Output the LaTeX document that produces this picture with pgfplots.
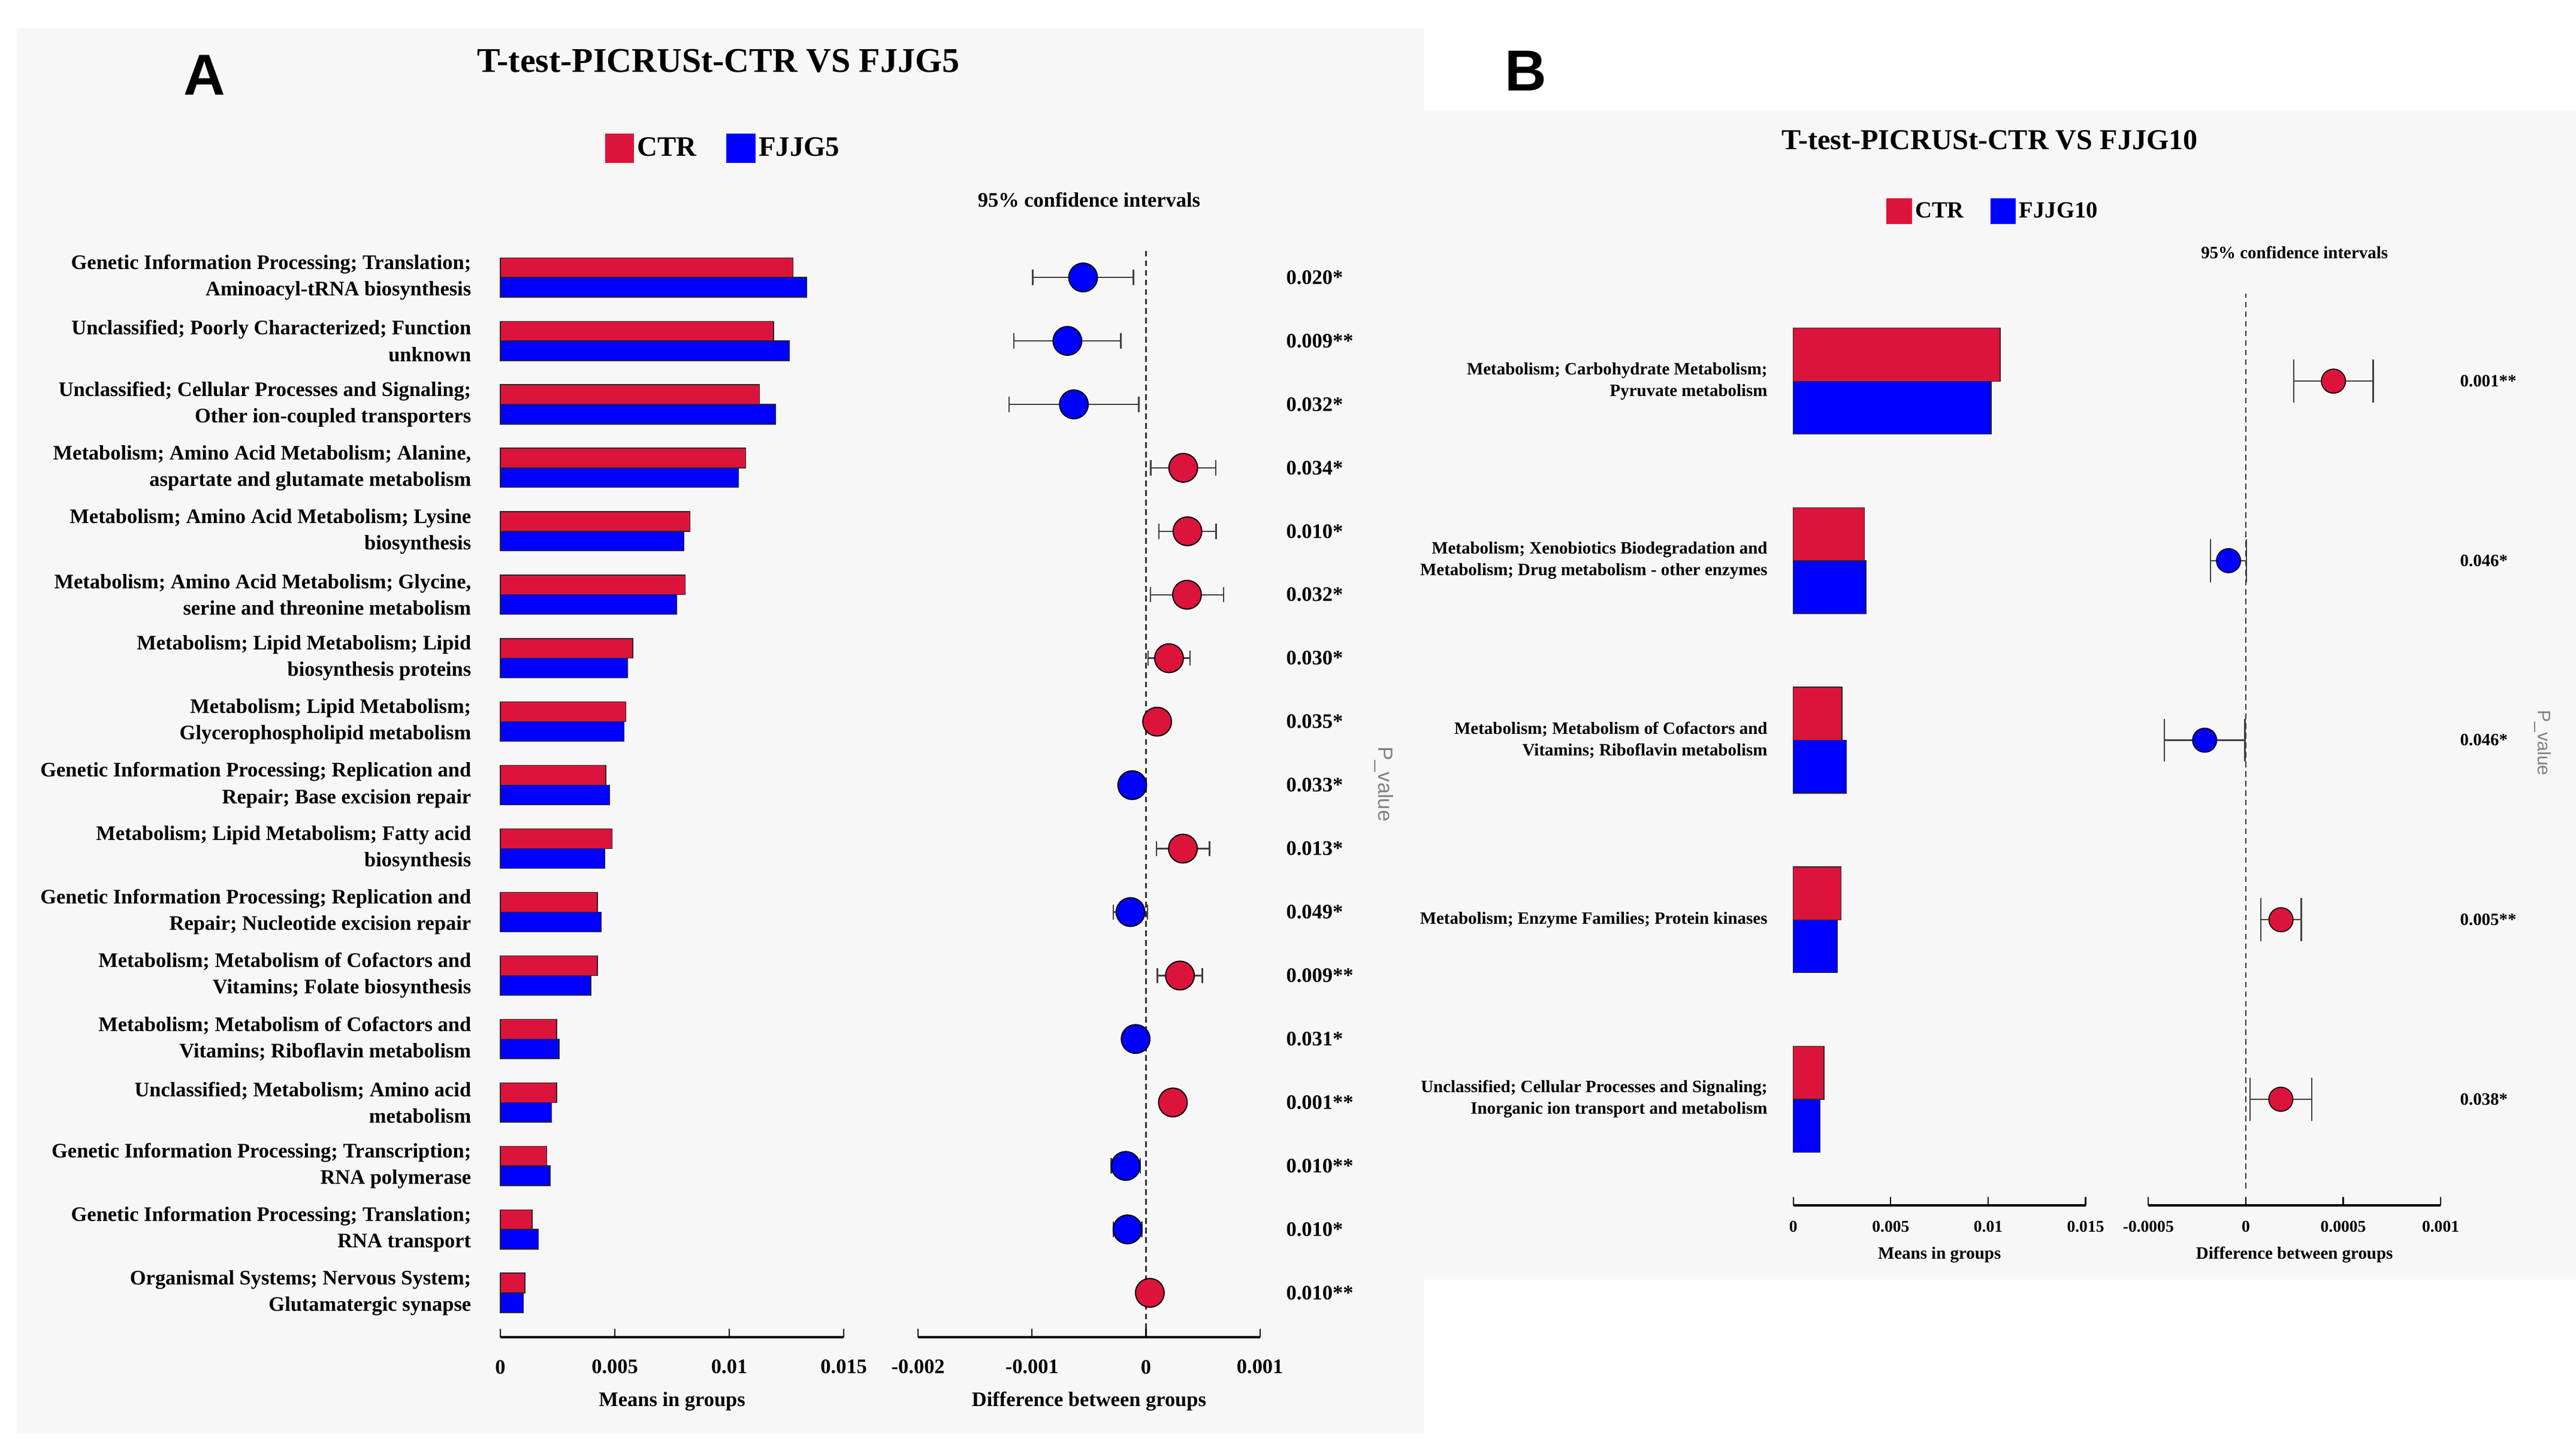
\documentclass[border=0pt]{standalone}
\usepackage{fontspec}
\setmainfont{Liberation Serif}
\newfontfamily\sansf{Liberation Sans}
\usepackage{pgfplots}
\pgfplotsset{compat=1.18}
\definecolor{ctrred}{RGB}{220,20,60}
\definecolor{fjjblue}{RGB}{0,0,255}
\definecolor{bggray}{RGB}{247,247,247}
\pgfplotsset{
  common/.style={
    scale only axis, anchor=south west, clip=false,
    axis x line=bottom, x axis line style={-, line width=1.6pt},
    tick align=inside, major tick length=5pt,
    xtick style={line width=0.8pt, black},
    scaled x ticks=false,
  },
  barstyle/.style={xbar, bar width=#1, draw=black!85, line width=0.5pt},
}
\begin{document}
\begin{tikzpicture}[x=1pt,y=1pt]
\fill[white] (0,0) rectangle (1560,875);
\fill[bggray] (10,7) rectangle (862,858);
\fill[bggray] (860,100) rectangle (1560,808);
\node[font=\sansf\bfseries\fontsize{35}{40}\selectfont] at (124,829.5) {A};
\node[font=\sansf\bfseries\fontsize{35}{40}\selectfont] at (924,832) {B};
\node[font=\bfseries\fontsize{21}{24}\selectfont] at (435,838) {T-test-PICRUSt-CTR VS FJJG5};
\node[font=\bfseries\fontsize{17.5}{20}\selectfont] at (1205,790) {T-test-PICRUSt-CTR VS FJJG10};
\node[rotate=-90, text=black!50, font=\sansf\fontsize{12.5}{14}\selectfont] at (838,400) {P\_value};
\node[rotate=-90, text=black!50, font=\sansf\fontsize{11}{13}\selectfont] at (1540,425) {P\_value};

% ---------------- Panel A: means
\begin{axis}[common,
  at={(303pt,65pt)}, width=208pt, height=665pt,
  xmin=0, xmax=0.015, ymin=0.30, ymax=17.6,
  axis y line=left, y axis line style={draw=none}, ytick style={draw=none},
  xtick={0,0.005,0.01,0.015}, xticklabels={0,0.005,0.01,0.015},
  xticklabel style={font=\bfseries\fontsize{12.5}{14}\selectfont, anchor=center, yshift=-18pt},
  ytick={1,...,17},
  yticklabels={
   {Organismal Systems; Nervous System;\\Glutamatergic synapse},
   {Genetic Information Processing; Translation;\\RNA transport},
   {Genetic Information Processing; Transcription;\\RNA polymerase},
   {Unclassified; Metabolism; Amino acid\\metabolism},
   {Metabolism; Metabolism of Cofactors and\\Vitamins; Riboflavin metabolism},
   {Metabolism; Metabolism of Cofactors and\\Vitamins; Folate biosynthesis},
   {Genetic Information Processing; Replication and\\Repair; Nucleotide excision repair},
   {Metabolism; Lipid Metabolism; Fatty acid\\biosynthesis},
   {Genetic Information Processing; Replication and\\Repair; Base excision repair},
   {Metabolism; Lipid Metabolism;\\Glycerophospholipid metabolism},
   {Metabolism; Lipid Metabolism; Lipid\\biosynthesis proteins},
   {Metabolism; Amino Acid Metabolism; Glycine,\\serine and threonine metabolism},
   {Metabolism; Amino Acid Metabolism; Lysine\\biosynthesis},
   {Metabolism; Amino Acid Metabolism; Alanine,\\aspartate and glutamate metabolism},
   {Unclassified; Cellular Processes and Signaling;\\Other ion-coupled transporters},
   {Unclassified; Poorly Characterized; Function\\unknown},
   {Genetic Information Processing; Translation;\\Aminoacyl-tRNA biosynthesis}},
  yticklabel style={font=\bfseries\fontsize{12.5}{16}\selectfont, align=right, inner sep=0pt, xshift=-15pt},
  xlabel={Means in groups},
  xlabel style={at={(axis description cs:0.5,0)}, anchor=center, yshift=-39pt, font=\bfseries\fontsize{12.5}{14}\selectfont},
  legend style={at={(0.29,1.083)}, anchor=west, draw=none, fill=none, legend columns=2,
    font=\bfseries\fontsize{17}{20}\selectfont, /tikz/every even column/.append style={column sep=16pt}},
]
\addplot[barstyle=0.31, bar shift=0.155, fill=ctrred,
  legend image code/.code={\fill[ctrred] (0pt,-8.5pt) rectangle (17pt,8.5pt);}]
 coordinates {(0.01278,17) (0.01193,16) (0.01132,15) (0.01071,14) (0.00829,13) (0.00807,12)
  (0.00578,11) (0.00549,10) (0.00461,9) (0.00488,8) (0.00424,7) (0.00424,6) (0.00246,5)
  (0.00246,4) (0.00202,3) (0.00139,2) (0.00107,1)};
\addlegendentry{CTR}
\addplot[barstyle=0.31, bar shift=-0.155, fill=fjjblue,
  legend image code/.code={\fill[fjjblue] (0pt,-8.5pt) rectangle (17pt,8.5pt);}]
 coordinates {(0.01339,17) (0.01263,16) (0.01202,15) (0.01041,14) (0.00802,13) (0.00771,12)
  (0.00556,11) (0.00541,10) (0.00478,9) (0.00456,8) (0.00441,7) (0.00395,6) (0.00256,5)
  (0.00224,4) (0.00217,3) (0.00166,2) (0.00100,1)};
\addlegendentry{FJJG5}
\end{axis}

% ---------------- Panel A: differences
\begin{axis}[common,
  at={(556pt,65pt)}, width=207pt, height=665pt,
  xmin=-0.002, xmax=0.001, ymin=0.30, ymax=17.6,
  axis y line=none,
  xtick={-0.002,-0.001,0,0.001}, xticklabels={-0.002,-0.001,0,0.001},
  xticklabel style={font=\bfseries\fontsize{12.5}{14}\selectfont, anchor=center, yshift=-18pt},
  xlabel={Difference between groups},
  xlabel style={at={(axis description cs:0.5,0)}, anchor=center, yshift=-39pt, font=\bfseries\fontsize{12.5}{14}\selectfont},
  title={95\% confidence intervals},
  title style={at={(axis description cs:0.5,1)}, anchor=center, yshift=18pt, font=\bfseries\fontsize{12.5}{14}\selectfont},
]
\addplot[black!80, line width=0.8pt, dash pattern=on 3.5pt off 2.3pt] coordinates {(0,0.43) (0,17.47)};
\addplot[black!75, only marks, mark=*, mark options={draw=none, fill=none},
  error bars/.cd, x dir=both, x explicit, error mark=|,
  error bar style={line width=0.9pt, black!75},
  error mark options={line width=0.9pt, draw=black!75, mark size=4.6pt}]
 coordinates {
  (-0.000552,17) +- (0.000441,0)
  (-0.000690,16) +- (0.00047,0)
  (-0.000633,15) +- (0.00057,0)
  (0.000327,14) +- (0.000286,0)
  (0.000364,13) +- (0.00025,0)
  (0.00036,12) +- (0.00032,0)
  (0.000202,11) +- (0.000185,0)
  (0.0000976,10) +- (0.00008,0)
  (-0.000121,9) +- (0.00008,0)
  (0.000324,8) +- (0.000233,0)
  (-0.000136,7) +- (0.00015,0)
  (0.000298,6) +- (0.000197,0)
  (-0.0000909,5) +- (0.00008,0)
  (0.000236,4) +- (0.00008,0)
  (-0.000178,3) +- (0.000128,0)
  (-0.000162,2) +- (0.000125,0)
  (0.0000337,1) +- (0.00008,0)};
\addplot[only marks, mark=*, mark size=8.7pt, mark options={fill=ctrred, draw=black, line width=0.7pt}]
 coordinates {(0.000327,14) (0.000364,13) (0.00036,12) (0.000202,11) (0.0000976,10)
  (0.000324,8) (0.000298,6) (0.000236,4) (0.0000337,1)};
\addplot[only marks, mark=*, mark size=8.7pt, mark options={fill=fjjblue, draw=black, line width=0.7pt}]
 coordinates {(-0.000552,17) (-0.000690,16) (-0.000633,15) (-0.000121,9) (-0.000136,7)
  (-0.0000909,5) (-0.000178,3) (-0.000162,2)};
\begin{scope}[every node/.style={anchor=west, font=\bfseries\fontsize{12.5}{14}\selectfont}]
\node at (axis cs:0.00118,17) {0.020*};
\node at (axis cs:0.00118,16) {0.009**};
\node at (axis cs:0.00118,15) {0.032*};
\node at (axis cs:0.00118,14) {0.034*};
\node at (axis cs:0.00118,13) {0.010*};
\node at (axis cs:0.00118,12) {0.032*};
\node at (axis cs:0.00118,11) {0.030*};
\node at (axis cs:0.00118,10) {0.035*};
\node at (axis cs:0.00118,9) {0.033*};
\node at (axis cs:0.00118,8) {0.013*};
\node at (axis cs:0.00118,7) {0.049*};
\node at (axis cs:0.00118,6) {0.009**};
\node at (axis cs:0.00118,5) {0.031*};
\node at (axis cs:0.00118,4) {0.001**};
\node at (axis cs:0.00118,3) {0.010**};
\node at (axis cs:0.00118,2) {0.010*};
\node at (axis cs:0.00118,1) {0.010**};
\end{scope}
\end{axis}

% ---------------- Panel B: means
\begin{axis}[common,
  at={(1086pt,145pt)}, width=177pt, height=553.5pt,
  xmin=0, xmax=0.015, ymin=0.41, ymax=5.5,
  axis y line=left, y axis line style={draw=none}, ytick style={draw=none},
  xtick={0,0.005,0.01,0.015}, xticklabels={0,0.005,0.01,0.015},
  xticklabel style={font=\bfseries\fontsize{10}{12}\selectfont, anchor=center, yshift=-13pt},
  ytick={1,...,5},
  yticklabels={
   {Unclassified; Cellular Processes and Signaling;\\Inorganic ion transport and metabolism},
   {Metabolism; Enzyme Families; Protein kinases},
   {Metabolism; Metabolism of Cofactors and\\Vitamins; Riboflavin metabolism},
   {Metabolism; Xenobiotics Biodegradation and\\Metabolism; Drug metabolism - other enzymes},
   {Metabolism; Carbohydrate Metabolism;\\Pyruvate metabolism}},
  yticklabel style={font=\bfseries\fontsize{10.5}{13}\selectfont, align=right, inner sep=0pt, xshift=-13pt},
  xlabel={Means in groups},
  xlabel style={at={(axis description cs:0.5,0)}, anchor=center, yshift=-30pt, font=\bfseries\fontsize{10.5}{12}\selectfont},
  legend style={at={(0.30,1.0876)}, anchor=west, draw=none, fill=none, legend columns=2,
    font=\bfseries\fontsize{14}{16}\selectfont, /tikz/every even column/.append style={column sep=14pt}},
]
\addplot[barstyle=0.295, bar shift=0.1475, fill=ctrred,
  legend image code/.code={\fill[ctrred] (0pt,-7.5pt) rectangle (15pt,7.5pt);}]
 coordinates {(0.01062,5) (0.00365,4) (0.00250,3) (0.00246,2) (0.00158,1)};
\addlegendentry{CTR}
\addplot[barstyle=0.295, bar shift=-0.1475, fill=fjjblue,
  legend image code/.code={\fill[fjjblue] (0pt,-7.5pt) rectangle (15pt,7.5pt);}]
 coordinates {(0.01015,5) (0.00373,4) (0.00273,3) (0.00227,2) (0.00138,1)};
\addlegendentry{FJJG10}
\end{axis}

% ---------------- Panel B: differences
\begin{axis}[common,
  at={(1301pt,145pt)}, width=177pt, height=553.5pt,
  xmin=-0.0005, xmax=0.001, ymin=0.41, ymax=5.5,
  axis y line=none,
  xtick={-0.0005,0,0.0005,0.001}, xticklabels={-0.0005,0,0.0005,0.001},
  xticklabel style={font=\bfseries\fontsize{10}{12}\selectfont, anchor=center, yshift=-13pt},
  xlabel={Difference between groups},
  xlabel style={at={(axis description cs:0.5,0)}, anchor=center, yshift=-30pt, font=\bfseries\fontsize{10.5}{12}\selectfont},
  title={95\% confidence intervals},
  title style={at={(axis description cs:0.5,1)}, anchor=center, yshift=17.6pt, font=\bfseries\fontsize{10.5}{12}\selectfont},
]
\addplot[black!80, line width=0.7pt, dash pattern=on 3.5pt off 2.3pt] coordinates {(0,0.503) (0,5.487)};
\addplot[black!75, only marks, mark=*, mark options={draw=none, fill=none},
  error bars/.cd, x dir=both, x explicit, error mark=|,
  error bar style={line width=0.8pt, black!75},
  error mark options={line width=0.8pt, draw=black!75, mark size=13pt}]
 coordinates {
  (0.00045,5) +- (0.000204,0)
  (-0.0000885,4) +- (0.0000925,0)
  (-0.000211,3) +- (0.000207,0)
  (0.000181,2) +- (0.000104,0)
  (0.00018,1) +- (0.000158,0)};
\addplot[only marks, mark=*, mark size=7.3pt, mark options={fill=ctrred, draw=black, line width=0.6pt}]
 coordinates {(0.00045,5) (0.000181,2) (0.00018,1)};
\addplot[only marks, mark=*, mark size=7.3pt, mark options={fill=fjjblue, draw=black, line width=0.6pt}]
 coordinates {(-0.0000885,4) (-0.000211,3)};
\begin{scope}[every node/.style={anchor=west, font=\bfseries\fontsize{10.5}{12}\selectfont}]
\node at (axis cs:0.00107,5) {0.001**};
\node at (axis cs:0.00107,4) {0.046*};
\node at (axis cs:0.00107,3) {0.046*};
\node at (axis cs:0.00107,2) {0.005**};
\node at (axis cs:0.00107,1) {0.038*};
\end{scope}
\end{axis}
\pgfresetboundingbox
\useasboundingbox (0,0) rectangle (1560,875);
\end{tikzpicture}
\end{document}
